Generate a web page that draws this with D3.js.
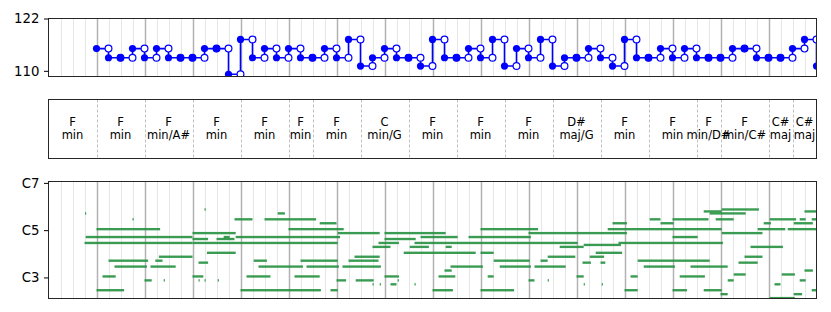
<!DOCTYPE html>
<html>
<head>
<meta charset="utf-8">
<script src="https://cdn.jsdelivr.net/npm/d3@7"></script>
<style>
  body { margin: 0; background: #fff; }
  text { font-family: "DejaVu Sans", sans-serif; }
</style>
</head>
<body>
<div id="general"></div>
<script>
// tempo per beat, starting at beat 4
const tempoStart = 4;
const tempo = [
  115.1, 113, 113, 115.1, 113, 115.1, 113, 113, 113, 115.1, 115.1, 109.2, 117.2, 113, 115.1, 113,
  115.1, 113, 113, 115.1, 113, 117.2, 111.1, 113, 115.1, 113, 113, 111.1, 117.2, 113, 113,
  115.1, 113, 117.2, 111.1, 115.1, 113, 117.2, 111.1, 113, 113, 115.1, 113, 111.1, 117.2, 113, 113,
  115.1, 113, 115.1, 113, 113, 113, 115.1, 115.1, 113, 113, 113, 115.1, 117.2, 111.1
];
const tempoTicks = [110, 122];

// chords (beats)
const chordStart = [0, 4, 8, 12, 16, 20, 22, 26, 30, 34, 38, 42, 46, 50, 54, 56, 60, 62];
const chordEnd   = [4, 8, 12, 16, 20, 22, 26, 30, 34, 38, 42, 46, 50, 54, 56, 60, 62, 64];
const chordRoot  = ["F", "F", "F", "F", "F", "F", "F", "C", "F", "F", "F", "D#", "F", "F", "F", "F", "C#", "C#"];
const chordQual  = ["min", "min", "min/A#", "min", "min", "min", "min", "min/G", "min", "min", "min", "maj/G", "min", "min", "min/D#", "min/C#", "maj", "maj"];

// notes: [start beat, end beat, midi pitch]
const notes = [
  [3.04, 3.14, 80], [7.0, 7.1, 77], [13.0, 13.1, 82], [15.5, 17.0, 77], [18.0, 22.3, 77], [19.1, 19.7, 80],
  [4.0, 9.3, 72], [20.0, 24.6, 72], [12.0, 15.6, 70], [3.1, 12.0, 68], [12.0, 13.3, 67], [14.0, 15.5, 67],
  [14.6, 15.1, 68], [15.6, 24.3, 68], [3.0, 12.0, 65], [12.0, 24.1, 65], [13.2, 15.6, 60], [9.2, 12.0, 58],
  [5.0, 8.3, 56], [8.9, 9.5, 56], [12.5, 13.3, 55], [17.1, 18.2, 56], [5.5, 8.2, 53], [8.5, 10.6, 53],
  [17.5, 21.2, 53], [4.5, 5.6, 48], [8.0, 8.6, 46], [9.6, 9.7, 46], [12.0, 12.9, 48], [12.5, 12.6, 46],
  [13.0, 13.1, 46], [14.1, 14.2, 46], [16.5, 18.5, 48], [20.5, 22.6, 48], [4.0, 6.3, 41], [16.0, 22.7, 41],
  [22.6, 24.0, 75], [24.1, 27.6, 70], [28.0, 33.1, 70], [28.0, 30.6, 67], [31.0, 34.1, 68], [27.5, 29.2, 65],
  [30.5, 44.1, 65], [27.0, 28.5, 63], [30.1, 31.7, 63], [33.1, 33.6, 63], [42.6, 44.6, 63], [25.5, 27.6, 58],
  [29.6, 35.6, 60], [36.0, 37.1, 60], [41.6, 43.9, 58], [21.0, 24.1, 56], [25.0, 27.5, 56], [37.1, 40.1, 56],
  [41.0, 41.6, 56], [21.5, 24.2, 53], [24.5, 27.7, 53], [33.5, 36.2, 53], [37.6, 40.2, 53], [40.5, 43.1, 53],
  [33.0, 33.6, 51], [28.0, 29.2, 48], [32.5, 33.9, 48], [36.6, 37.1, 48], [24.0, 24.8, 46], [25.6, 27.1, 46],
  [29.1, 29.2, 46], [40.0, 40.5, 46], [41.6, 41.7, 46], [27.0, 27.1, 44], [27.6, 27.7, 44], [28.5, 29.0, 44],
  [30.5, 30.6, 44], [23.5, 24.1, 41], [32.0, 33.7, 41], [36.0, 38.8, 41], [36.0, 40.8, 72], [40.0, 48.2, 70],
  [35.0, 40.2, 68],
  [56.1, 59.2, 82], [54.6, 56.1, 81], [55.1, 58.1, 80], [63.0, 64.0, 81], [47.0, 48.2, 75], [50.1, 51.0, 77],
  [51.0, 52.1, 75], [52.0, 55.0, 77], [55.6, 57.1, 77], [60.1, 62.3, 77], [62.6, 63.1, 77], [63.6, 64.0, 77],
  [59.6, 60.2, 75], [62.1, 63.7, 75], [46.6, 56.1, 72], [56.1, 59.5, 70], [59.1, 61.4, 72], [61.6, 64.0, 72],
  [52.0, 54.1, 68], [44.6, 47.7, 64], [47.5, 56.2, 65], [58.5, 61.2, 63], [45.6, 47.8, 60], [45.1, 46.3, 58],
  [58.0, 59.5, 58], [44.5, 45.2, 55], [46.0, 46.4, 55], [57.5, 59.1, 55], [49.1, 55.1, 56], [49.6, 52.2, 53],
  [53.5, 56.6, 53], [63.0, 63.7, 51], [57.1, 58.1, 49], [61.1, 62.2, 49], [44.0, 44.6, 48], [48.5, 49.1, 48],
  [52.6, 54.7, 48], [56.6, 57.1, 46], [62.6, 63.1, 46], [60.5, 61.0, 44], [44.6, 44.7, 44], [46.1, 46.2, 44],
  [48.0, 49.1, 41], [52.0, 53.2, 41], [54.6, 56.1, 41], [63.6, 64.0, 41], [56.0, 56.6, 39], [62.1, 62.8, 39],
  [60.1, 62.2, 37]
];
const pitchTicks = [48, 72, 96];
const pitchNames = {48: "C3", 72: "C5", 96: "C7"};

const W = 831, H = 312;
const L = 48.5, R = 816.5;
const pTempo = {t: 18.5, b: 76.5};
const pChord = {t: 99.5, b: 158.5};
const pRoll = {t: 181.5, b: 298.5};

const blue = "#0000ff";
const green = "#25913f";

const svg = d3.select("#general").append("svg").attr("width", W).attr("height", H);
const defs = svg.append("defs");

const x = d3.scaleLinear().domain([0, 64]).range([L, R]);
const yT = d3.scaleLinear().domain([108.7, 122]).range([pTempo.b, pTempo.t]);
const yP = d3.scaleLinear().domain([37.3, 96.7]).range([pRoll.b, pRoll.t]);

function clip(id, p) {
  defs.append("clipPath").attr("id", id)
    .append("rect").attr("x", L).attr("y", p.t).attr("width", R - L).attr("height", p.b - p.t);
}
clip("clipT", pTempo);
clip("clipR", pRoll);

function grid(p) {
  const g = svg.append("g");
  const beats = d3.range(1, 64);
  g.selectAll("line")
    .data(beats)
    .join("line")
      .attr("x1", d => Math.round(x(d)) + 0.5)
      .attr("x2", d => Math.round(x(d)) + 0.5)
      .attr("y1", p.t)
      .attr("y2", p.b)
      .attr("stroke", d => d % 4 === 0 ? "#b3b3b3" : "#e6e6e6")
      .attr("stroke-width", d => d % 4 === 0 ? 1.5 : 1);
}

function frame(p) {
  svg.append("rect")
    .attr("x", L).attr("y", p.t)
    .attr("width", R - L).attr("height", p.b - p.t)
    .attr("fill", "none").attr("stroke", "#262626").attr("stroke-width", 1);
}

function leftAxis(scale, ticks, fmt) {
  const ax = svg.append("g")
    .attr("transform", `translate(${L},0)`)
    .call(d3.axisLeft(scale).tickValues(ticks).tickFormat(fmt).tickSize(4.5).tickSizeOuter(0).tickPadding(4.5));
  ax.select(".domain").remove();
  ax.selectAll("text").attr("font-size", "13.3px").attr("fill", "#000").style("font-family", "DejaVu Sans");
  ax.selectAll("line").attr("stroke", "#000");
}

// ---- tempo panel
grid(pTempo);
const tg = svg.append("g").attr("clip-path", "url(#clipT)");
const segs = tempo.map((v, i) => ({b0: tempoStart + i, b1: tempoStart + i + 1, v, next: tempo[i + 1]}));

tg.selectAll("line.h")
  .data(segs)
  .join("line")
    .attr("x1", d => x(d.b0)).attr("x2", d => x(d.b1))
    .attr("y1", d => yT(d.v)).attr("y2", d => yT(d.v))
    .attr("stroke", blue).attr("stroke-width", 1.6);

tg.selectAll("line.v")
  .data(segs.filter(d => d.next !== undefined && d.next !== d.v))
  .join("line")
    .attr("x1", d => x(d.b1)).attr("x2", d => x(d.b1))
    .attr("y1", d => yT(d.v)).attr("y2", d => yT(d.next))
    .attr("stroke", blue).attr("stroke-width", 1.6);

tg.selectAll("circle.open")
  .data(segs)
  .join("circle")
    .attr("cx", d => x(d.b1)).attr("cy", d => yT(d.v)).attr("r", 3.4)
    .attr("fill", "#fff").attr("stroke", blue).attr("stroke-width", 1.2);

tg.selectAll("circle.full")
  .data(segs)
  .join("circle")
    .attr("cx", d => x(d.b0)).attr("cy", d => yT(d.v)).attr("r", 3.6)
    .attr("fill", blue);

frame(pTempo);
leftAxis(yT, tempoTicks, d3.format("d"));

// ---- chord panel
const chords = chordStart.map((s, i) => ({s, e: chordEnd[i], root: chordRoot[i], qual: chordQual[i]}));
svg.append("g").selectAll("line")
  .data(chords.slice(1))
  .join("line")
    .attr("x1", d => Math.round(x(d.s)) + 0.5).attr("x2", d => Math.round(x(d.s)) + 0.5)
    .attr("y1", pChord.t).attr("y2", pChord.b)
    .attr("stroke", "#b0b0b0").attr("stroke-width", 0.8).attr("stroke-dasharray", "3,2");

const ct = svg.append("g").selectAll("text")
  .data(chords)
  .join("text")
    .attr("text-anchor", "middle")
    .attr("font-size", "11.5px")
    .attr("fill", "#000");
ct.append("tspan").attr("x", d => x((d.s + d.e) / 2)).attr("y", 126).text(d => d.root);
ct.append("tspan").attr("x", d => x((d.s + d.e) / 2)).attr("y", 138.5).text(d => d.qual);
frame(pChord);

// ---- piano roll
grid(pRoll);
svg.append("g").attr("clip-path", "url(#clipR)")
  .selectAll("rect")
  .data(notes)
  .join("rect")
    .attr("x", d => x(d[0]))
    .attr("width", d => Math.max(1, x(d[1]) - x(d[0])))
    .attr("y", d => yP(d[2] + 1) - 0.2)
    .attr("height", d => yP(d[2]) - yP(d[2] + 1) + 0.4)
    .attr("fill", green)
    .attr("fill-opacity", 0.9);
frame(pRoll);
leftAxis(yP, pitchTicks, d => pitchNames[d]);
</script>
</body>
</html>
